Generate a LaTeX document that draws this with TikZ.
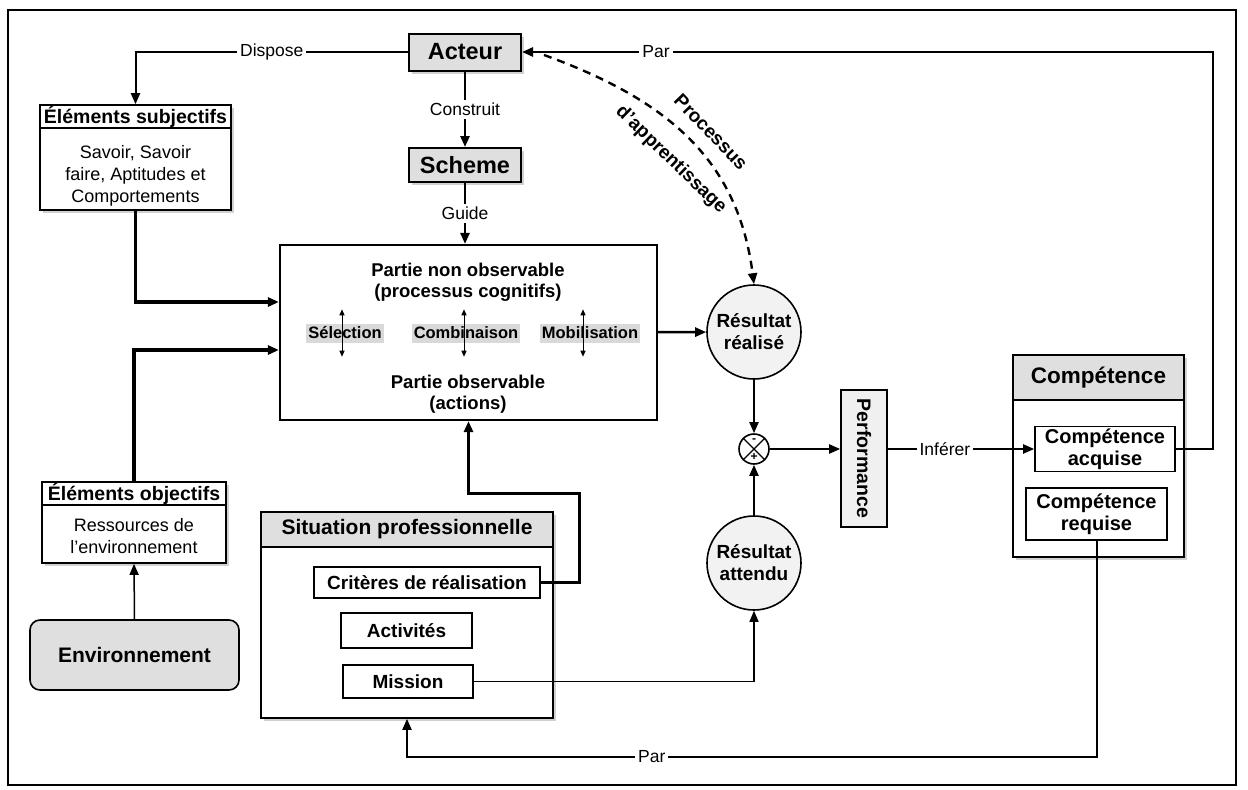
\documentclass[tikz,border=0pt]{standalone}
\usepackage{fontspec}
\setmainfont{Liberation Sans}
\usetikzlibrary{arrows.meta,calc,shadows}
\begin{document}
\begin{tikzpicture}[x=1pt,y=-1pt,
  box/.style={draw, line width=1.6pt, inner sep=0pt, align=center, fill=white},
  gbox/.style={box, fill=gray!25},
  shad/.style={drop shadow={fill=gray!60, opacity=0.6, shadow xshift=3pt, shadow yshift=-3pt}},
  lbl/.style={fill=white, inner sep=3pt, font=\fontsize{17.5}{20}\selectfont},
  tipA/.style={-{Triangle[length=11pt,width=9pt]}},
  tipS/.style={-{Triangle[length=11pt,width=9pt]}},
  bigf/.style={font=\bfseries\fontsize{23.5}{27}\selectfont},
  hdrf/.style={font=\bfseries\fontsize{19.5}{22}\selectfont},
  bodyf/.style={font=\fontsize{18}{22}\selectfont},
  midf/.style={font=\bfseries\fontsize{19}{22}\selectfont},
  cenf/.style={font=\bfseries\fontsize{18.5}{22}\selectfont},
  subf/.style={font=\bfseries\fontsize{16.5}{19}\selectfont},
  procf/.style={font=\bfseries\fontsize{19}{22}\selectfont},
  stip/.style={fill=gray!30, subf, inner sep=2pt, minimum height=19pt},
  rnd/.style={draw, circle, line width=1.6pt, fill=gray!10, minimum size=94pt, inner sep=0pt, align=center, midf},
  dbl/.style={line width=1pt, {Triangle[length=6pt,width=5pt]}-{Triangle[length=6pt,width=5pt]}},
]
\useasboundingbox (0,0) rectangle (1248,790);
\draw[line width=1.2pt] (8,10) rectangle (1236,785);

% top column
\node[gbox, shad, line width=2pt, bigf, minimum width=112pt, minimum height=37pt] (acteur) at (465,52) {Acteur};
\node[gbox, shad, line width=2pt, bigf, minimum width=112pt, minimum height=34pt] (scheme) at (465,165) {Scheme};

% left column
\node[box, shad, bodyf, minimum width=191pt, minimum height=105pt] (subj) at (135.5,157.5) {};
\node[box, hdrf, minimum width=191pt, minimum height=23pt, anchor=north] (subjh) at (subj.north) {Éléments subjectifs};
\node[bodyf, align=center] (subjb) at (135.5,176) {Savoir, Savoir\\faire, Aptitudes et\\Comportements};
\node[box, shad, minimum width=184pt, minimum height=81pt] (obj) at (134,522.5) {};
\node[box, hdrf, minimum width=184pt, minimum height=23pt, anchor=north] (objh) at (obj.north) {Éléments objectifs};
\node[bodyf, align=center] (objb) at (134,536) {Ressources de\\l'environnement};
\node[gbox, rounded corners=10pt, font=\bfseries\fontsize{21}{25}\selectfont, minimum width=209pt, minimum height=70pt] (env) at (134.5,655) {Environnement};

% central box
\node[box, line width=2.2pt, minimum width=377pt, minimum height=175pt] (cbox) at (468.5,332.5) {};
\node[cenf] (t1) at (468,270) {Partie non observable};
\node[cenf] (t2) at (468,293) {(processus cognitifs)};
\node[stip] (sel) at (345,333) {Sélection};
\node[stip] (comb) at (466,333) {Combinaison};
\node[stip] (mob) at (590,333) {Mobilisation};
\node[cenf] (t3) at (468,382) {Partie observable};
\node[cenf] (t4) at (468,405) {(actions)};
\draw[dbl] ($(sel.north)+(-3,-14)$) -- ($(sel.south)+(-3,14)$);
\draw[dbl] ($(comb.north)+(-2,-14)$) -- ($(comb.south)+(-2,14)$);
\draw[dbl] ($(mob.north)+(-7,-14)$) -- ($(mob.south)+(-7,14)$);

% situation professionnelle
\node[box, shad, minimum width=292pt, minimum height=206pt] (sit) at (407,615) {};
\node[gbox, font=\bfseries\fontsize{21}{25}\selectfont, minimum width=292pt, minimum height=35pt, anchor=north] (sith) at (sit.north) {Situation professionnelle};
\node[box, midf, minimum width=226pt, minimum height=31pt] (crit) at (427,582.5) {Critères de réalisation};
\node[box, midf, minimum width=131pt, minimum height=35pt] (act) at (406.5,630.5) {Activités};
\node[box, midf, minimum width=130pt, minimum height=33pt] (miss) at (408,681.5) {Mission};

% results
\node[rnd] (rr) at (754,332) {Résultat\\réalisé};
\node[rnd] (ra) at (754,563) {Résultat\\attendu};
\node[draw, circle, line width=1.6pt, fill=white, minimum size=30pt, inner sep=0pt] (mult) at (754,449) {};
\draw[line width=1.2pt] (mult.north east) -- (mult.south west) (mult.north west) -- (mult.south east);
\node[font=\bfseries\fontsize{12}{12}\selectfont, inner sep=0pt] (mminus) at ($(mult.center)+(0,-8)$) {-};
\node[font=\bfseries\fontsize{12}{12}\selectfont, inner sep=0pt] (mplus) at ($(mult.center)+(0,8)$) {+};

% performance
\node[box, fill=gray!12, minimum width=46pt, minimum height=137pt] (perf) at (864,458.5) {};
\node[rotate=-90, font=\bfseries\fontsize{19.5}{22}\selectfont] (perftxt) at (perf.center) {Performance};

% competence
\node[box, shad, minimum width=171pt, minimum height=202pt] (comp) at (1098.5,456) {};
\node[gbox, font=\bfseries\fontsize{22.5}{26}\selectfont, minimum width=171pt, minimum height=45pt, anchor=north] (comph) at (comp.north) {Compétence};
\node[box, font=\bfseries\fontsize{20}{22}\selectfont, minimum width=140pt, minimum height=45pt] (acq) at (1105,449) {Compétence\\acquise};
\node[box, font=\bfseries\fontsize{20}{22}\selectfont, minimum width=141pt, minimum height=52pt] (req) at (1096.5,514) {Compétence\\requise};

% connectors
\draw[line width=2pt, tipA] (acteur.west) -| node[lbl, pos=0.25] {Dispose} (subjh.north);
\draw[line width=2.5pt, tipA] (acteur) -- node[lbl] {Construit} (scheme);
\draw[line width=2.5pt, tipA] (scheme.south) -- node[lbl] {Guide} (scheme.south |- cbox.north);
\draw[line width=3.5pt, tipS] (subj.south) |- ([yshift=30.5pt]cbox.west);
\draw[line width=3.5pt, tipS] (objh.north) |- ([yshift=-17.5pt]cbox.west);
\draw[line width=1.5pt, tipA] (env.north) -- (obj.south);
\draw[line width=2.5pt, tipA] (cbox) -- (rr);
\draw[line width=2pt, tipA] (rr) -- (mult);
\draw[line width=2pt, tipA] (ra) -- (mult);
\draw[line width=2pt, tipA] (mult) -- (mult -| perf.west);
\draw[line width=2pt, tipA] (perf.east |- acq.west) -- node[lbl, pos=0.39] {Inférer} (acq.west);
\coordinate (pr) at (1213,52);
\draw[line width=2.5pt, tipA] (acq.east) -| (pr) -- node[lbl, pos=0.806] {Par} (acteur.east);
\coordinate (pb) at (1096.5,757);
\coordinate (pc) at (407,757);
\draw[line width=2pt, tipA] (req.south) -- (pb) -- node[lbl, pos=0.645] {Par} (pc) -- (sit.south);
\coordinate (w1) at (579,493);
\draw[line width=3pt, tipA] (crit.east) -| (w1) -| (cbox.south);
\draw[line width=1.5pt, tipA] (miss.east) -| (ra.south);
\draw[line width=2.4pt, dash pattern=on 8pt off 6pt, tipA] ([xshift=22pt,yshift=-3pt]acteur.east) .. controls (668,100) and (738,160) .. (rr.north);
\node[rotate=-46, procf] (proc1) at (711,132) {Processus};
\node[rotate=-44, procf] (proc2) at (671,160) {d'apprentissage};
\end{tikzpicture}
\end{document}
